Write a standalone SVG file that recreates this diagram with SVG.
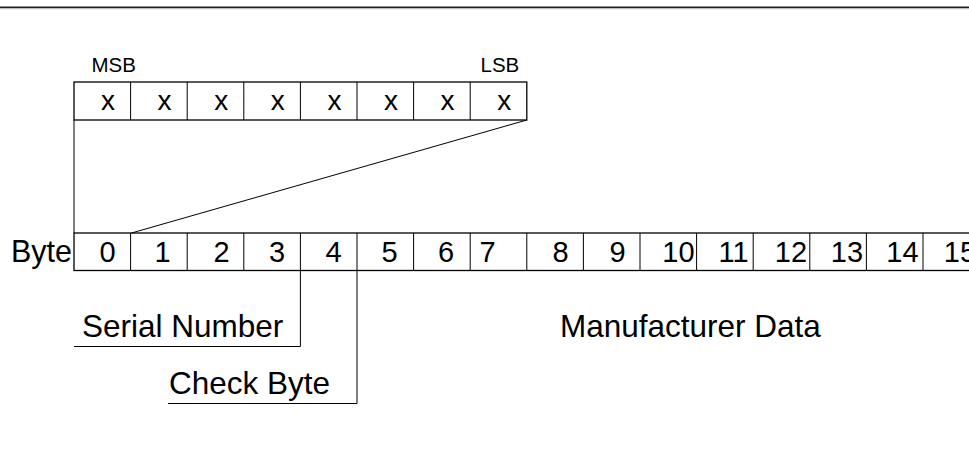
<svg xmlns="http://www.w3.org/2000/svg" width="969" height="453" viewBox="0 0 969 453">
<style>
.box{fill:#fff;stroke:#000;stroke-width:1.3}
.ln{fill:none;stroke:#000;stroke-width:1}
.t{font-family:"Liberation Sans",Arial,sans-serif;fill:#000}
.big{font-size:31.5px}
.d{font-size:29px;text-anchor:middle}
.x{font-size:28px;text-anchor:middle}
.s{font-size:20.5px}
</style>
<rect width="969" height="453" fill="#fff"/>
<line x1="0" y1="7.2" x2="969" y2="7.2" stroke="#222" stroke-width="1.5"/>
<line x1="0" y1="8.7" x2="969" y2="8.7" stroke="#999" stroke-width="0.8"/>
<g id="bits">
<rect class="box" x="74" y="82" width="452.8" height="38"/>
<path class="ln" d="M130.6 82V120M187.2 82V120M243.8 82V120M300.4 82V120M357 82V120M413.6 82V120M470.2 82V120"/>
<text class="t x" x="108" y="110">x</text>
<text class="t x" x="164.6" y="110">x</text>
<text class="t x" x="221.2" y="110">x</text>
<text class="t x" x="277.8" y="110">x</text>
<text class="t x" x="334.4" y="110">x</text>
<text class="t x" x="391" y="110">x</text>
<text class="t x" x="447.6" y="110">x</text>
<text class="t x" x="504.2" y="110">x</text>
<text class="t s" x="91.5" y="71.5">MSB</text>
<text class="t s" x="480.5" y="71.5">LSB</text>
</g>
<g id="bytes">
<rect class="box" x="74" y="233" width="910" height="37.5"/>
<path class="ln" d="M130.6 233V270.5M187.2 233V270.5M243.8 233V270.5M300.4 233V270.5M357 233V270.5M413.6 233V270.5M470.2 233V270.5M526.8 233V270.5M583.4 233V270.5M640 233V270.5M696.6 233V270.5M753.2 233V270.5M809.8 233V270.5M866.4 233V270.5M923 233V270.5"/>
<text class="t" x="11" y="261.5" font-size="30.5">Byte</text>
<text class="t d" x="107.5" y="262">0</text>
<text class="t d" x="162.5" y="262">1</text>
<text class="t d" x="221.5" y="262">2</text>
<text class="t d" x="277" y="262">3</text>
<text class="t d" x="333.5" y="262">4</text>
<text class="t d" x="389.5" y="262">5</text>
<text class="t d" x="446" y="262">6</text>
<text class="t d" x="487.5" y="262">7</text>
<text class="t d" x="560.5" y="262">8</text>
<text class="t d" x="617.5" y="262">9</text>
<text class="t d" x="678.5" y="262">10</text>
<text class="t d" x="733.5" y="262">11</text>
<text class="t d" x="791" y="262">12</text>
<text class="t d" x="847" y="262">13</text>
<text class="t d" x="902.5" y="262">14</text>
<text class="t d" x="960" y="262">15</text>
</g>
<g id="labels">
<text class="t big" x="82" y="337">Serial Number</text>
<text class="t big" x="169" y="394">Check Byte</text>
<text class="t big" x="560" y="337">Manufacturer Data</text>
</g>
<g id="connectors">
<line class="ln" x1="74" y1="120" x2="74" y2="233"/>
<line class="ln" x1="526.8" y1="120" x2="131.5" y2="233"/>
<polyline class="ln" points="300.4,270.5 300.4,346.5 74,346.5"/>
<polyline class="ln" points="357,270.5 357,403.5 168,403.5"/>
</g>
</svg>
